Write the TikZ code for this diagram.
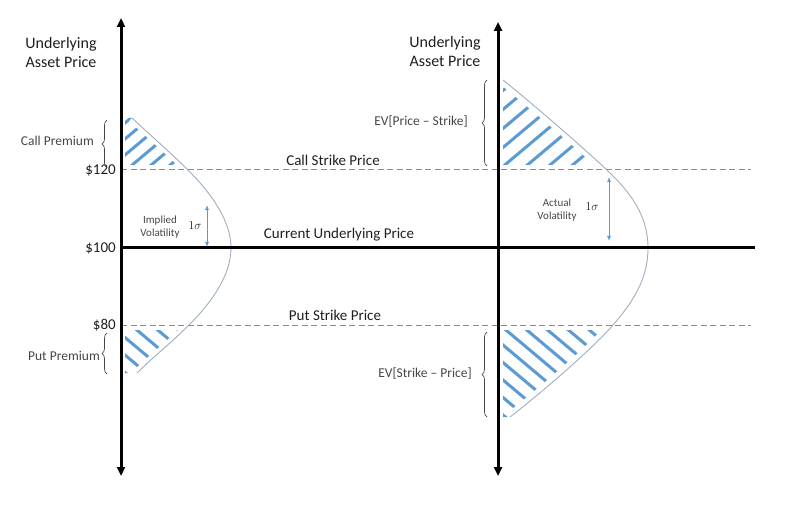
\documentclass[tikz,border=0pt]{standalone}
\usepackage{fontspec}
\setmainfont{Carlito}
\usetikzlibrary{decorations.pathreplacing,arrows.meta}
\definecolor{hatchblue}{RGB}{91,155,213}
\definecolor{bellgray}{RGB}{160,174,190}
\definecolor{dashgray}{RGB}{140,140,140}
\definecolor{notegray}{RGB}{70,70,70}
\definecolor{inkblack}{RGB}{30,30,30}

\tikzset{
  axis/.style={line width=3pt,{Triangle[length=9pt,width=8pt]}-{Triangle[length=9pt,width=8pt]}},
  spot/.style={line width=3pt},
  strike/.style={dashgray,line width=1pt,dash pattern=on 6pt off 3.5pt},
  bell/.style={bellgray,line width=0.9pt},
  hatch/.style={hatchblue,line width=3pt},
  inset/.style={white,line width=10pt},
  thininset/.style={white,line width=8pt},
  sigmaarrow/.style={hatchblue,line width=0.8pt,{Latex[length=5pt,width=4pt]}-{Latex[length=5pt,width=4pt]}},
  premium/.style={notegray,line width=0.7pt,decorate,decoration={brace,amplitude=5pt}},
  axislabel/.style={text=inkblack,font=\fontsize{16}{19}\selectfont,align=center},
  pricelabel/.style={text=inkblack,font=\fontsize{15}{18}\selectfont,anchor=east,inner sep=1pt},
  linelabel/.style={text=inkblack,font=\fontsize{15}{18}\selectfont},
  notelabel/.style={text=notegray,font=\fontsize{13.5}{16}\selectfont,anchor=east,inner sep=1pt},
  vollabel/.style={text=notegray,font=\fontsize{11}{13.5}\selectfont,align=center,inner sep=1pt},
  sigmalabel/.style={text=inkblack,font=\fontsize{13}{15}\selectfont,inner sep=1pt}
}

\begin{document}
\begin{tikzpicture}[x=1pt,y=-1pt]
\useasboundingbox (0,0) rectangle (791,518);

% left: implied distribution
\coordinate (lS) at (132,118);
\coordinate (lA) at (188,170);
\coordinate (lM) at (231,248);
\coordinate (lB) at (189,325);
\coordinate (lE) at (137,373);
% right: actual distribution
\coordinate (rS) at (503,80);
\coordinate (rA) at (607,170);
\coordinate (rM) at (648,248);
\coordinate (rB) at (613,325);
\coordinate (rE) at (510,417);

\coordinate (laxtop) at (121,18);
\coordinate (laxbot) at (121,476);
\coordinate (raxtop) at (498,22);
\coordinate (raxbot) at (498,476);
\coordinate (spotend) at (755,248);
\coordinate (callend) at (751,170);
\coordinate (putend) at (751,325);

\begin{scope}
  \clip (laxtop |- lS) -- (lS) .. controls (150,135) and (170,152) .. (lA) -- (laxtop |- lA) -- cycle;
  \foreach \c in {212,228,...,340}
    \draw[hatch] (100,{\c-84}) -- (260,{\c-218.4});
  \draw[thininset] (lS) .. controls (150,135) and (170,152) .. (lA);
  \draw[thininset] (laxtop) -- (laxbot);
  \draw[inset] (laxtop |- lA) -- (callend);
\end{scope}

\begin{scope}
  \clip (laxtop |- lB) -- (lB) .. controls (170,344) and (152,358) .. (lE) -- (laxtop |- lE) -- cycle;
  \foreach \c in {180,197.5,...,270}
    \draw[hatch] (100,{\c+84}) -- (260,{\c+218.4});
  \draw[thininset] (lB) .. controls (170,344) and (152,358) .. (lE);
  \draw[thininset] (laxtop) -- (laxbot);
  \draw[inset] (laxtop |- lB) -- (putend);
\end{scope}

\begin{scope}
  \clip (raxtop |- rS) -- (rS) .. controls (540,110) and (580,145) .. (rA) -- (raxtop |- rA) -- cycle;
  \foreach \c in {494,513,...,680}
    \draw[hatch] (480,{\c-403.2}) -- (660,{\c-554.4});
  \draw[inset] (rS) .. controls (540,110) and (580,145) .. (rA);
  \draw[inset] (raxtop) -- (raxbot);
  \draw[inset] (raxtop |- rA) -- (callend);
\end{scope}

\begin{scope}
  \clip (raxtop |- rB) -- (rB) .. controls (594,347) and (545,390) .. (rE) -- (raxtop |- rE) -- cycle;
  \foreach \c in {-200,-182.5,...,0}
    \draw[hatch] (480,{\c+403.2}) -- (660,{\c+554.4});
  \draw[inset] (rB) .. controls (594,347) and (545,390) .. (rE);
  \draw[inset] (raxtop) -- (raxbot);
  \draw[inset] (raxtop |- rB) -- (putend);
\end{scope}

\draw[bell] (lS) .. controls (150,135) and (170,152) .. (lA) .. controls (213,195) and (231,222) .. (lM)
  .. controls (231,275) and (212,302) .. (lB) .. controls (170,344) and (152,358) .. (lE);
\draw[bell] (rS) .. controls (540,110) and (580,145) .. (rA) .. controls (630,192) and (648,215) .. (rM)
  .. controls (648,280) and (632,303) .. (rB) .. controls (594,347) and (545,390) .. (rE);

\draw[strike] (laxtop |- callend) -- (callend);
\draw[strike] (laxtop |- putend) -- (putend);
\draw[spot] (laxtop |- spotend) -- (spotend);
\draw[axis] (laxtop) -- (laxbot);
\draw[axis] (raxtop) -- (raxbot);

\node[axislabel] (lyaxis) at (61,53) {Underlying\\Asset Price};
\node[axislabel] (ryaxis) at (445,52) {Underlying\\Asset Price};

\node[pricelabel] (p120) at (117,170) {\$120};
\node[pricelabel] (p100) at (117,248) {\$100};
\node[pricelabel] (p80) at (117,325) {\$80};

\node[linelabel] (callstrike) at (333,160) {Call Strike Price};
\node[linelabel] (spot) at (339,235) {Current Underlying Price};
\node[linelabel] (putstrike) at (335,315) {Put Strike Price};

\node[notelabel] (callprem) at (95,141) {Call Premium};
\node[notelabel] (putprem) at (101,356) {Put Premium};
\node[notelabel] (evcall) at (469,122) {EV[Price -- Strike]};
\node[notelabel] (evput) at (473,374) {EV[Strike -- Price]};

\coordinate (lcallbot) at (107,168);
\coordinate (lcalltop) at (107,120);
\coordinate (lputbot) at (107,374);
\coordinate (lputtop) at (107,333);
\coordinate (rcallbot) at (487,166);
\coordinate (rcalltop) at (487,80);
\coordinate (rputbot) at (487,417);
\coordinate (rputtop) at (487,332);
\draw[premium] (lcallbot) -- (lcalltop);
\draw[premium] (lputbot) -- (lputtop);
\draw[premium] (rcallbot) -- (rcalltop);
\draw[premium] (rputbot) -- (rputtop);

\node[vollabel] (implied) at (160,227) {Implied\\Volatility};
\node[sigmalabel] (lsigma) at (195,226) {$1\sigma$};
\node[vollabel] (actual) at (557,210) {Actual\\Volatility};
\node[sigmalabel] (rsigma) at (592,207) {$1\sigma$};

\coordinate (lsigtop) at (207,205);
\coordinate (lsigbot) at (207,247);
\coordinate (rsigtop) at (609,177);
\coordinate (rsigbot) at (609,241);
\draw[sigmaarrow] (lsigtop) -- (lsigbot);
\draw[sigmaarrow] (rsigtop) -- (rsigbot);
\end{tikzpicture}
\end{document}
